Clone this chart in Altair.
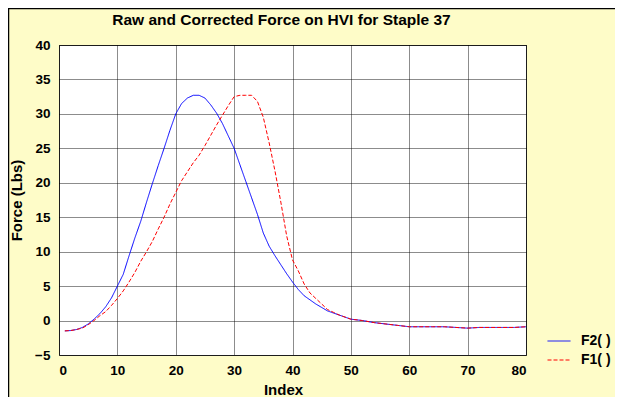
import altair as alt
import pandas as pd

# ---- data ----
index = list(range(1, 51)) + [52, 54, 56, 58, 60, 62, 64, 66, 68, 70, 72, 74, 76, 78, 80]

f2 = [-1.5, -1.45, -1.3, -1.0, -0.5, 0.2, 1.0, 2.0, 3.3, 5.0,
      6.7, 9.4, 12.0, 14.4, 17.2, 19.9, 22.5, 25.0, 27.6, 30.0,
      31.5, 32.3, 32.7, 32.7, 32.3, 31.3, 30.1, 28.6, 26.8, 25.0,
      22.6, 20.2, 17.8, 15.4, 12.7, 10.8, 9.4, 8.1, 6.8, 5.6,
      4.5, 3.6, 3.0, 2.4, 1.9, 1.4, 1.1, 0.8, 0.5, 0.2,
      0.0, -0.3, -0.5, -0.7, -0.9, -0.9, -0.9, -0.9, -1.0, -1.1,
      -1.0, -1.0, -1.0, -1.0, -0.9]

f1 = [-1.5, -1.45, -1.3, -1.1, -0.6, 0.0, 0.7, 1.3, 2.2, 3.2,
      4.3, 5.6, 7.0, 8.6, 10.0, 11.5, 13.3, 15.0, 16.9, 18.6,
      20.3, 21.6, 22.9, 24.0, 25.4, 26.9, 28.4, 29.8, 31.2, 32.5,
      32.7, 32.7, 32.7, 31.8, 29.5, 25.8, 21.7, 17.2, 12.3, 8.8,
      7.2, 5.3, 4.0, 3.2, 2.4, 1.6, 1.2, 0.8, 0.5, 0.2,
      0.0, -0.3, -0.5, -0.7, -0.9, -0.9, -0.9, -0.9, -1.0, -1.1,
      -1.0, -1.0, -1.0, -1.0, -0.9]

series_names = ["F2( )", "F1( )"]
series_colors = ["#0000ff", "#ff0000"]
series_dash = [[1, 0], [4, 2]]

x_ticks = list(range(0, 81, 10))
y_ticks = list(range(-5, 41, 5))

title_text = "Raw and Corrected Force on HVI for Staple 37"
x_title = "Index"
y_title = "Force (Lbs)"

rows = []
for i, a, b in zip(index, f2, f1):
    rows.append({"Index": i, "Force": a, "Series": series_names[0]})
    rows.append({"Index": i, "Force": b, "Series": series_names[1]})
df = pd.DataFrame(rows)

FONT = "Liberation Sans"
W, H = 467, 310

legend_def = alt.Legend(
    title=None, orient="none", legendX=488, legendY=284, padding=0,
    symbolType="stroke", symbolSize=529, symbolStrokeWidth=1,
    labelFont=FONT, labelFontSize=14, labelFontWeight="bold", labelColor="black",
    labelOffset=10, rowPadding=0,
)

lines = alt.Chart(df).mark_line(strokeWidth=1, clip=True).encode(
    x=alt.X("Index:Q",
            scale=alt.Scale(domain=[0, 80], nice=False, zero=False),
            axis=alt.Axis(values=x_ticks, title=x_title, titleX=224, titleY=34,
                          titleAlign="center", titleBaseline="middle",
                          labelPadding=8)),
    y=alt.Y("Force:Q",
            scale=alt.Scale(domain=[-5, 40], nice=False, zero=False),
            axis=alt.Axis(values=y_ticks, title=y_title, titleX=-43, titleY=155,
                          titleAlign="center", titleBaseline="middle", titleAngle=270,
                          labelPadding=9)),
    color=alt.Color("Series:N", sort=series_names,
                    scale=alt.Scale(domain=series_names, range=series_colors),
                    legend=legend_def),
    strokeDash=alt.StrokeDash("Series:N", sort=series_names,
                              scale=alt.Scale(domain=series_names, range=series_dash),
                              legend=legend_def),
    order=alt.Order("Index:Q"),
)

frame_df = pd.DataFrame({"k": [0]})
frame_top = alt.Chart(frame_df).mark_rule(color="black", strokeWidth=1.5).encode(
    x=alt.value(-51), x2=alt.value(W + 89), y=alt.value(-36.5))
frame_left = alt.Chart(frame_df).mark_rule(color="black", strokeWidth=1.5).encode(
    x=alt.value(-50.5), y=alt.value(-37), y2=alt.value(H + 42))

chart = alt.layer(lines, frame_top, frame_left).properties(
    width=W, height=H,
    title=alt.TitleParams(title_text, font=FONT, fontSize=15.5, fontWeight="bold",
                          color="black", anchor="middle", dx=-11, offset=-21),
    autosize=alt.AutoSizeParams(type="none"),
    padding={"left": 51, "top": 37, "right": 89, "bottom": 42},
).configure(
    background="#fefcc8",
).configure_view(
    fill="white", stroke="#333333", strokeWidth=1,
).configure_axis(
    labelFont=FONT, labelFontSize=13.5, labelFontWeight="bold", labelColor="black",
    titleFont=FONT, titleFontSize=15, titleFontWeight="bold", titleColor="black",
    ticks=False, tickSize=0, domain=False,
    grid=True, gridColor="black", gridDash=[1, 1], gridWidth=1, gridOpacity=0.9,
)

chart.save("out.html", embed_options={"renderer": "svg", "actions": False})
